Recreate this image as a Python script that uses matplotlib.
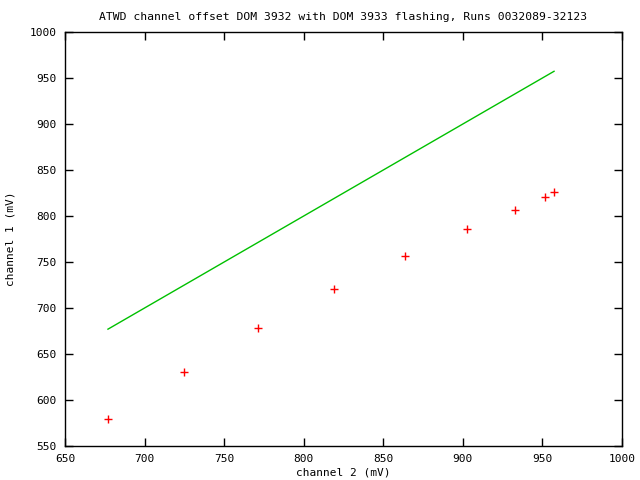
import matplotlib
matplotlib.use("Agg")
import matplotlib.pyplot as plt
import numpy as np

ch2 = [677, 724.5, 771.5, 819, 863.5, 902.5, 932.8, 951.6, 957.3]
ch1 = [579, 630, 678, 720.3, 756.2, 785.5, 806.2, 820.3, 825.8]
line_x = [677, 957.3]
line_y = [677, 957.3]
xticks = [650, 700, 750, 800, 850, 900, 950, 1000]
yticks = [550, 600, 650, 700, 750, 800, 850, 900, 950, 1000]

plt.rcParams['font.family'] = ['DejaVu Sans Mono']
fig = plt.figure(figsize=(6.4, 4.8), dpi=100)
ax = fig.add_axes([65/640, 34/480, 557/640, 414/480])
ax.plot(ch2, ch1, linestyle='none', marker='+', color='#ff0000', markersize=6, markeredgewidth=1)
ax.plot(line_x, line_y, color='#00c000', linewidth=1)
ax.set_xlim(650, 1000)
ax.set_ylim(550, 1000)
ax.set_xticks(xticks)
ax.set_yticks(yticks)
ax.tick_params(direction='in', length=6, width=1, top=True, right=True, labelsize=8, pad=6)
for s in ax.spines.values():
    s.set_linewidth(1)
ax.set_title('ATWD channel offset DOM 3932 with DOM 3933 flashing, Runs 0032089-32123', fontsize=8.2, pad=9)
ax.set_xlabel('channel 2 (mV)', fontsize=8, labelpad=2)
ax.set_ylabel('channel 1 (mV)', fontsize=8, labelpad=10)
fig.savefig('out.png', dpi=100)
